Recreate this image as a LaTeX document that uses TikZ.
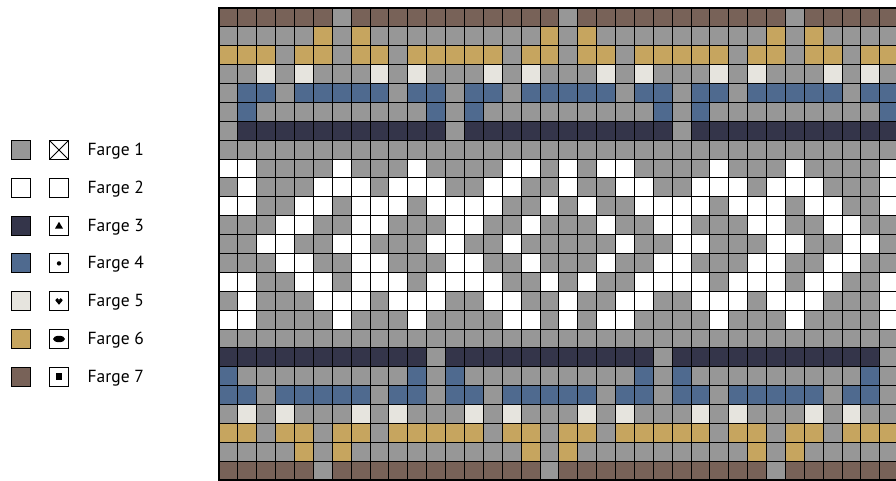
\documentclass[tikz,border=0pt]{standalone}
\usepackage{fontspec}
\setmainfont{PT Sans}

\definecolor{farge1}{RGB}{151,151,151}
\definecolor{farge2}{RGB}{255,255,255}
\definecolor{farge3}{RGB}{52,53,74}
\definecolor{farge4}{RGB}{79,106,143}
\definecolor{farge5}{RGB}{230,228,222}
\definecolor{farge6}{RGB}{198,165,95}
\definecolor{farge7}{RGB}{120,98,88}

\begin{document}
\begin{tikzpicture}[x=1pt, y=1pt,
    swatch/.style={draw=black, line width=0.8pt, minimum size=19pt, inner sep=0pt, outer sep=0pt},
    fargetext/.style={anchor=base west, inner sep=0pt, font=\fontsize{17.5}{20}\selectfont}]
  \useasboundingbox (0,0) rectangle (896,481);

  % legend
  \foreach \i in {1,...,7} {
    \pgfmathsetmacro{\yc}{331-37.8*(\i-1)}
    \node[swatch, fill=farge\i] (sw\i) at (21,\yc) {};
    \node[swatch, fill=white] (sy\i) at (59,\yc) {};
    \node[fargetext] (lab\i) at (87.5,\yc-5.5) {Farge \i};
  }
  \draw[line width=0.8pt] (sy1.north west) -- (sy1.south east)
                          (sy1.north east) -- (sy1.south west);
  \fill ([shift={(-4,-3)}]sy3.center) -- ++(8,0) -- ++(-4,6.8) -- cycle;
  \fill (sy4.center) circle (2.2);
  \fill ([shift={(-1.7,1.2)}]sy5.center) circle (1.9);
  \fill ([shift={(1.7,1.2)}]sy5.center) circle (1.9);
  \fill ([shift={(-3.55,0.7)}]sy5.center) -- ([shift={(3.55,0.7)}]sy5.center)
        -- ([shift={(0,-3.6)}]sy5.center) -- cycle;
  \fill (sy6.center) ellipse (6 and 3.2);
  \fill ([shift={(-3.3,-3.3)}]sy7.center) rectangle ++(6.6,6.6);

  % chart
  \begin{scope}[shift={(219pt,1pt)}, x=18.88pt, y=18.88pt]
    \fill[farge1] (0,0) rectangle (36,25);
    % borders, top rows 1-7 and bottom rows 19-25
    \foreach \motif [count=\r] in {
        {7,7,7,7,7,7,1,7,7,7,7,7},
        {1,1,1,1,1,6,1,6,1,1,1,1},
        {6,6,6,1,6,6,1,6,6,1,6,6},
        {1,1,5,1,5,1,1,1,5,1,5,1},
        {1,4,4,1,4,4,4,4,4,1,4,4},
        {1,4,1,1,1,1,1,1,1,1,1,4},
        {1,3,3,3,3,3,3,3,3,3,3,3},
        {3,3,3,3,3,3,3,3,3,3,3,1},
        {4,1,1,1,1,1,1,1,1,1,4,1},
        {4,4,1,4,4,4,4,4,1,4,4,1},
        {1,5,1,5,1,1,1,5,1,5,1,1},
        {6,6,1,6,6,1,6,6,1,6,6,6},
        {1,1,1,1,6,1,6,1,1,1,1,1},
        {7,7,7,7,7,1,7,7,7,7,7,7}} {
      \pgfmathtruncatemacro{\rr}{\r>7 ? \r+11 : \r}
      \foreach \k in {0,12,24}
        \foreach \c [count=\i from 0] in \motif
          \fill[farge\c] (\k+\i,25-\rr) rectangle ++(1,1);
    }
    % main pattern, rows 9-13, mirrored about column 18 and row 13
    \foreach \vals [count=\r from 9] in {
        {2,2,1,1,1,1,2,1,1,1,2,1,1,1,1,2,2,1,2},
        {1,2,1,1,1,2,2,2,1,2,2,2,1,1,2,2,1,1,2},
        {2,2,1,1,2,2,1,2,2,2,1,2,2,2,2,1,1,2,1},
        {1,1,1,2,2,1,1,2,2,1,1,1,2,2,1,1,2,1,1},
        {1,1,2,2,1,1,2,2,1,1,1,2,2,1,1,2,1,1,1}} {
      \foreach \c [count=\i from 0] in \vals {
        \ifnum\c=2
          \fill[farge2] (\i,25-\r) rectangle ++(1,1);
          \fill[farge2] (36-\i,25-\r) rectangle ++(1,1);
          \fill[farge2] (\i,\r-1) rectangle ++(1,1);
          \fill[farge2] (36-\i,\r-1) rectangle ++(1,1);
        \fi
      }
    }
    \draw[line width=0.9pt, step=1] (0,0) grid (36,25);
    \draw[line width=1.8pt] (0,0) rectangle (36,25);
  \end{scope}
\end{tikzpicture}
\end{document}
